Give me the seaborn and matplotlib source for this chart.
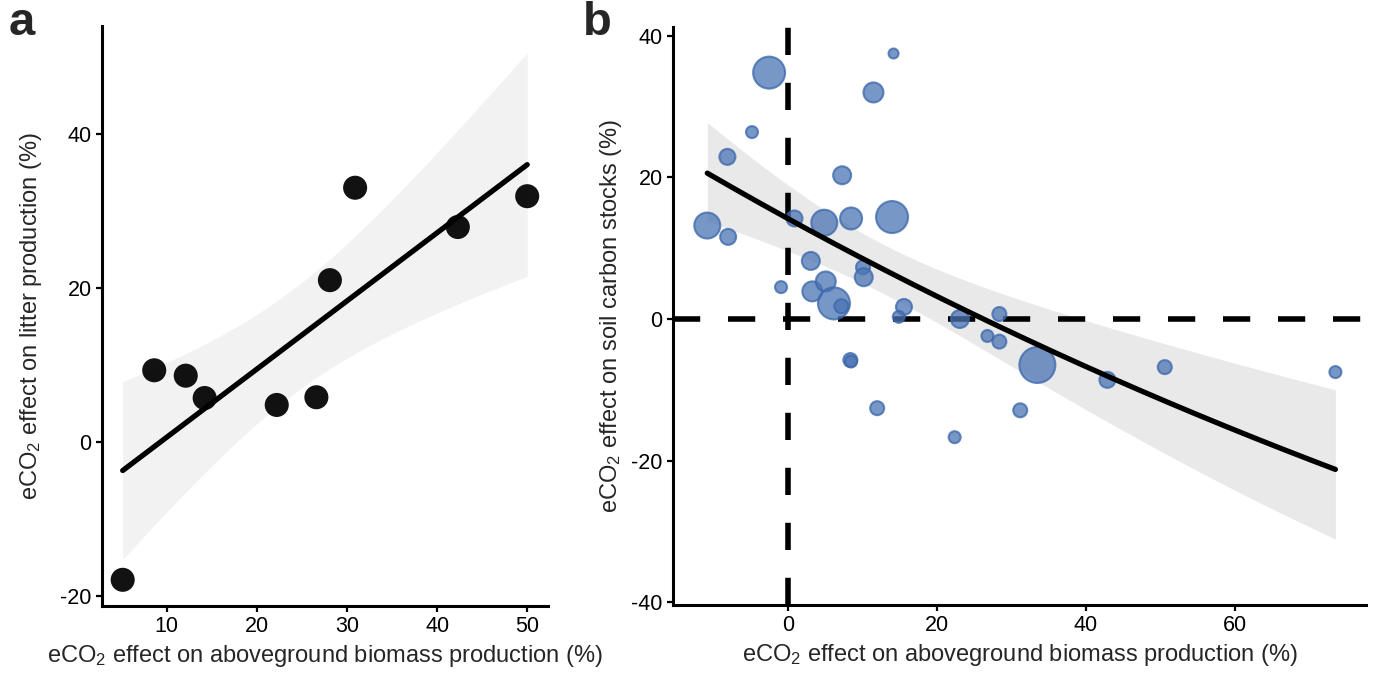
import pandas as pd
import numpy as np
import seaborn as sns
import matplotlib.pyplot as plt

sns.set_theme(style="ticks")
plt.rcParams['font.family'] = ['Liberation Sans', 'DejaVu Sans']
plt.rcParams['mathtext.fontset'] = 'custom'
plt.rcParams['mathtext.rm'] = 'Liberation Sans'
plt.rcParams['mathtext.default'] = 'regular'
plt.rcParams['axes.unicode_minus'] = False

# panel a: litter production vs aboveground biomass
biomass_a = [5.1, 8.6, 12.1, 14.2, 22.2, 26.6, 28.1, 30.9, 42.3, 50.0]
litter_a = [-17.9, 9.3, 8.6, 5.7, 4.8, 5.8, 21.0, 33.0, 27.9, 31.9]

# panel b: soil carbon stocks vs aboveground biomass, sized by weight
biomass_b = [-2.5, 14.2, 11.5, -4.8, -8.1, 7.3, -10.8, -8.0, 0.9, 4.9, 8.5, 14.0,
             3.1, 10.1, 10.2, -0.9, 3.3, 5.1, 6.2, 7.2, 15.6, 14.9, 23.1, 8.4,
             8.5, 12.0, 22.4, 31.2, 28.4, 26.8, 28.4, 33.5, 42.9, 50.6, 73.5]
soilc_b = [34.8, 37.5, 32.0, 26.4, 22.9, 20.3, 13.2, 11.6, 14.2, 13.6, 14.2, 14.4,
           8.2, 7.3, 5.9, 4.5, 3.9, 5.3, 2.2, 1.8, 1.7, 0.3, 0.0, -5.8,
           -6.0, -12.6, -16.7, -12.9, 0.7, -2.4, -3.2, -6.5, -8.6, -6.8, -7.5]
weight_b = [256, 25, 100, 36, 64, 81, 169, 64, 64, 169, 121, 256,
            81, 49, 81, 36, 100, 100, 256, 49, 64, 36, 81, 49,
            36, 49, 36, 49, 49, 36, 49, 324, 64, 49, 36]

df_a = pd.DataFrame({'biomass': biomass_a, 'litter': litter_a})
df_b = pd.DataFrame({'biomass': biomass_b, 'soilc': soilc_b, 'weight': weight_b})


def t_crit(df, z=1.959964):
    # Cornish-Fisher approximation of the 97.5% t quantile
    return (z + (z**3 + z) / (4 * df)
            + (5 * z**5 + 16 * z**3 + 3 * z) / (96 * df**2))


def wls_fit(x, y, w, xs):
    # weighted linear fit with 95% confidence band
    x, y, w = np.asarray(x, float), np.asarray(y, float), np.asarray(w, float)
    X = np.vander(x, 2)
    XtW = X.T * w
    A = XtW @ X
    beta = np.linalg.solve(A, XtW @ y)
    resid = y - X @ beta
    dof = len(x) - 2
    s2 = np.sum(w * resid**2) / dof
    cov = s2 * np.linalg.inv(A)
    Xs = np.vander(xs, 2)
    yhat = Xs @ beta
    se = np.sqrt(np.einsum('ij,jk,ik->i', Xs, cov, Xs))
    t = t_crit(dof)
    return pd.DataFrame({'x': xs, 'fit': yhat, 'lo': yhat - t * se, 'hi': yhat + t * se})


fig = plt.figure(figsize=(13.76, 6.78), dpi=100)
ax_a = fig.add_axes([0.0741, 0.1062, 0.3241, 0.8555])
ax_b = fig.add_axes([0.4891, 0.1077, 0.5036, 0.852])

xlab = "eCO$_2$ effect on aboveground biomass production (%)"

# ---- panel a (ordinary linear fit)
xs_a = np.linspace(min(biomass_a), max(biomass_a), 100)
fit_a = wls_fit(biomass_a, litter_a, np.ones(len(biomass_a)), xs_a)
ax_a.fill_between(fit_a['x'], fit_a['lo'], fit_a['hi'], color='#f2f2f2', lw=0, zorder=1)
sns.scatterplot(data=df_a, x='biomass', y='litter', ax=ax_a, color='black',
                s=300, alpha=0.93, edgecolor='none', zorder=3)
sns.lineplot(data=fit_a, x='x', y='fit', ax=ax_a, color='black', lw=3.8, zorder=4)
ax_a.set_xlim(2.8, 52.3)
ax_a.set_ylim(-21.3, 54.0)
ax_a.set_xticks([10, 20, 30, 40, 50])
ax_a.set_yticks([-20, 0, 20, 40])
ax_a.set_xlabel(xlab, fontsize=17)
ax_a.set_ylabel("eCO$_2$ effect on litter production (%)", fontsize=17, labelpad=12)

# ---- panel b (weighted fit on log response ratio, back-transformed to %)
xs_b = np.linspace(min(biomass_b), max(biomass_b), 200)
lnrr_b = np.log1p(np.asarray(soilc_b) / 100)
fit_b = wls_fit(biomass_b, lnrr_b, weight_b, xs_b)
for col in ('fit', 'lo', 'hi'):
    fit_b[col] = np.expm1(fit_b[col]) * 100
ax_b.fill_between(fit_b['x'], fit_b['lo'], fit_b['hi'], color='#e9e9e9', lw=0, zorder=1)
ax_b.axvline(0, color='black', lw=4, ls=(0, (4.9, 5.0)), zorder=2)
ax_b.axhline(0, color='black', lw=4, ls=(0, (4.9, 5.0)), zorder=2)
sns.scatterplot(data=df_b, x='biomass', y='soilc', size='weight', ax=ax_b,
                sizes=(52, 671), size_norm=(25, 324), color='#4a74b4', alpha=0.75,
                edgecolor='#3a66aa', linewidth=1.5, legend=False, zorder=3)
sns.lineplot(data=fit_b, x='x', y='fit', ax=ax_b, color='black', lw=3.8, zorder=5)
ax_b.set_xlim(-15.4, 77.6)
ax_b.set_ylim(-40.4, 41.2)
ax_b.set_xticks([0, 20, 40, 60])
ax_b.set_yticks([-40, -20, 0, 20, 40])
ax_b.set_xlabel(xlab, fontsize=17)
ax_b.set_ylabel("eCO$_2$ effect on soil carbon stocks (%)", fontsize=17, labelpad=5)

for ax in (ax_a, ax_b):
    sns.despine(ax=ax)
    for s in ('left', 'bottom'):
        ax.spines[s].set_linewidth(2.2)
        ax.spines[s].set_color('black')
    ax.tick_params(width=1.6, length=4, labelsize=15.5, color='black', labelcolor='black')

fig.text(0.006, 0.948, 'a', fontsize=34, fontweight='bold')
fig.text(0.424, 0.948, 'b', fontsize=34, fontweight='bold')

fig.savefig('out.png', dpi=100)
